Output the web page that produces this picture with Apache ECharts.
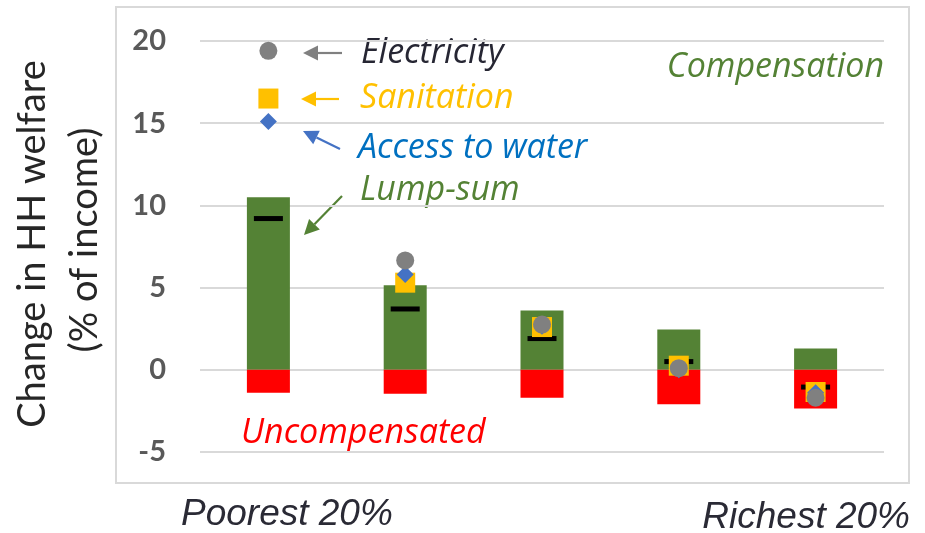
<!DOCTYPE html>
<html>
<head>
<meta charset="utf-8">
<script src="https://cdn.jsdelivr.net/npm/echarts@6/dist/echarts.min.js"></script>
<style>
  html, body { margin: 0; padding: 0; background: #fff; }
  #chart { width: 925px; height: 533px; }
</style>
</head>
<body>
<div id="chart"></div>
<script>
// quintiles, poorest -> richest
const categories = ['Q1', 'Q2', 'Q3', 'Q4', 'Q5'];
const compensation = [10.5, 5.15, 3.6, 2.45, 1.3];
const uncompensated = [-1.4, -1.45, -1.7, -2.1, -2.35];
const lumpSum = [9.2, 3.7, 1.9, 0.5, -1.05];
const electricity = [19.4, 6.65, 2.75, 0.1, -1.7];
const sanitation = [16.5, 5.3, 2.6, 0.25, -1.35];
const water = [15.1, 5.8, 2.65, 0.0, -1.4];
const yMin = -5, yMax = 20, yStep = 5;

const chart = echarts.init(document.getElementById('chart'));

// arrow annotation: line from (x1,y1) to tip (x2,y2)
function arrow(x1, y1, x2, y2, color) {
    const a = Math.atan2(y2 - y1, x2 - x1);
    const len = 15, half = 7.5;
    const bx = x2 - len * Math.cos(a), by = y2 - len * Math.sin(a);
    const px = -Math.sin(a) * half, py = Math.cos(a) * half;
    return [
        { type: 'line', shape: { x1: x1, y1: y1, x2: bx, y2: by }, style: { stroke: color, lineWidth: 2.2 } },
        { type: 'polygon', shape: { points: [[x2, y2], [bx + px, by + py], [bx - px, by - py]] }, style: { fill: color } },
    ];
}

// y is the vertical middle of the text
function label(text, x, y, color, opts) {
    return {
        type: 'text',
        x: x,
        y: y,
        style: Object.assign({
            text: text,
            fill: color,
            font: 'italic 34px "Open Sans"',
            verticalAlign: 'middle',
            align: 'left',
        }, opts || {}),
    };
}

const graphics = [
    { type: 'rect', shape: { x: 116, y: 7, width: 793, height: 476 }, style: { fill: 'none', stroke: '#d9d9d9', lineWidth: 2 }, z: -1 },
    label('Electricity', 361, 53, '#262633'),
    label('Sanitation', 360, 98.5, '#ffc000'),
    label('Access to water', 358, 148.5, '#0070c0'),
    label('Lump-sum', 360, 190.5, '#548235'),
    label('Compensation', 884, 67, '#548235', { align: 'right' }),
    label('Uncompensated', 241, 433.5, '#ff0000'),
    label('Poorest 20%', 181, 515, '#2a2a35', { font: 'italic 37px "Liberation Sans"' }),
    label('Richest 20%', 910, 517.5, '#2a2a35', { font: 'italic 37px "Liberation Sans"', align: 'right' }),
    {
        type: 'text',
        x: 33, y: 244, rotation: Math.PI / 2,
        style: { text: 'Change in HH welfare', font: '38px Lato', fill: '#262626', align: 'center', verticalAlign: 'middle' },
    },
    {
        type: 'text',
        x: 85, y: 240, rotation: Math.PI / 2,
        style: { text: '(% of income)', font: '38px Lato', fill: '#262626', align: 'center', verticalAlign: 'middle' },
    },
]
    .concat(arrow(342, 53, 303, 53, '#808080'))
    .concat(arrow(339, 99, 301, 99, '#ffc000'))
    .concat(arrow(340, 149, 303, 131, '#4472c4'))
    .concat(arrow(342, 196, 304, 235, '#548235'));

const option = {
    animation: false,
    grid: { left: 200, right: 41, top: 41, bottom: 81 },
    xAxis: {
        type: 'category',
        data: categories,
        axisLine: { show: false },
        axisTick: { show: false },
        axisLabel: { show: false },
    },
    yAxis: {
        type: 'value',
        min: yMin,
        max: yMax,
        interval: yStep,
        axisLine: { show: false },
        axisTick: { show: false },
        axisLabel: {
            margin: 34,
            color: '#595959',
            fontFamily: 'Lato',
            fontWeight: 'bold',
            fontSize: 29,
        },
        splitLine: { lineStyle: { color: '#d9d9d9', width: 2 } },
    },
    series: [
        { name: 'Compensation', type: 'bar', stack: 'total', barWidth: 43, data: compensation, itemStyle: { color: '#548235' } },
        { name: 'Uncompensated', type: 'bar', stack: 'total', barWidth: 43, data: uncompensated, itemStyle: { color: '#ff0000' } },
        { name: 'Lump-sum', type: 'scatter', data: lumpSum, symbol: 'rect', symbolSize: [29, 5], itemStyle: { color: '#000000', opacity: 1 }, z: 3 },
        { name: 'Sanitation', type: 'scatter', data: sanitation, symbol: 'rect', symbolSize: 20, itemStyle: { color: '#ffc000', opacity: 1 }, z: 4 },
        { name: 'Access to water', type: 'scatter', data: water, symbol: 'diamond', symbolSize: 17, itemStyle: { color: '#4472c4', opacity: 1 }, z: 5 },
        { name: 'Electricity', type: 'scatter', data: electricity, symbol: 'circle', symbolSize: 18, itemStyle: { color: '#808080', opacity: 1 }, z: 6 },
    ],
    graphic: graphics,
};

chart.setOption(option);
</script>
</body>
</html>
